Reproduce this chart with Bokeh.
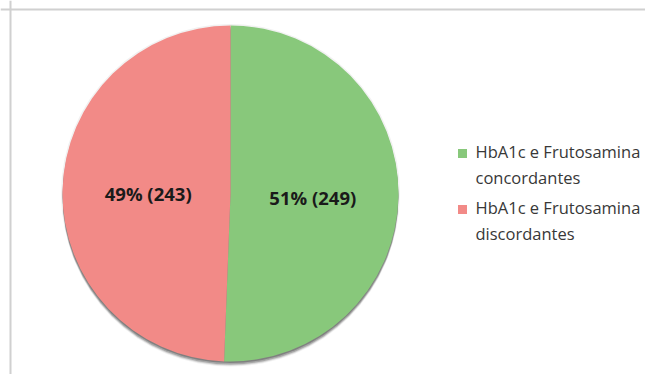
import numpy as np
from bokeh.plotting import figure
from bokeh.models import Range1d, Span
from bokeh.core.properties import value
from bokeh.embed import file_html
from bokeh.resources import INLINE

# Data
categories = ["HbA1c e Frutosamina\nconcordantes", "HbA1c e Frutosamina\ndiscordantes"]
counts = [249, 243]
percents = [51, 49]
colors = ["#88C87B", "#F28A87"]

W, H = 645, 374
p = figure(width=W, height=H, output_backend="svg", toolbar_location=None,
           x_range=Range1d(0, W), y_range=Range1d(0, H), min_border=0)
p.axis.visible = False
p.grid.visible = False
p.outline_line_color = None
p.background_fill_color = "white"
p.border_fill_color = "white"

# frame lines of the chart area
p.add_layout(Span(location=H - 9, dimension="width", line_color="#D0D0D0", line_width=2))
p.add_layout(Span(location=10, dimension="height", line_color="#D0D0D0", line_width=2))

cx, cy, r = 230, H - 193, 168

# soft shadow under the pie
for dy, rr, a in [(-5, r, 0.08), (-4, r, 0.16), (-3, r, 0.28), (-1.5, r, 0.30), (0, r + 1.5, 0.07)]:
    p.circle(x=[cx], y=[cy + dy], radius=rr, fill_color="#3A3A3A", fill_alpha=a,
             line_color=None)

total = sum(counts)
fracs = np.array(counts) / total
ends = np.cumsum(fracs)
starts = ends - fracs
start_ang = np.pi / 2 - starts * 2 * np.pi
end_ang = np.pi / 2 - ends * 2 * np.pi

p.wedge(x=cx, y=cy, radius=r, start_angle=start_ang, end_angle=end_ang,
        direction="clock", fill_color=colors, line_color=None)

mid = (start_ang + end_ang) / 2
lx = cx + 0.49 * r * np.cos(mid)
ly = cy + 0.49 * r * np.sin(mid)
labels = [f"{pc}% ({c})" for pc, c in zip(percents, counts)]
p.text(x=lx, y=ly - 2, text=labels, text_align="center", text_baseline="middle",
       text_font=value("Open Sans"), text_font_style="bold", text_font_size="18.5px",
       text_color="#1A1A1A")

# legend
ly0 = [H - 153, H - 209]
p.rect(x=[462] * 2, y=ly0, width=9, height=9, fill_color=colors, line_color=None)
p.text(x=[475] * 2, y=[y + 14 for y in ly0], text=categories, text_align="left",
       text_baseline="top", text_font=value("Open Sans"), text_font_size="16.5px",
       text_color="#383838", text_line_height=1.15)

open("out.html", "w").write(file_html(p, INLINE))
